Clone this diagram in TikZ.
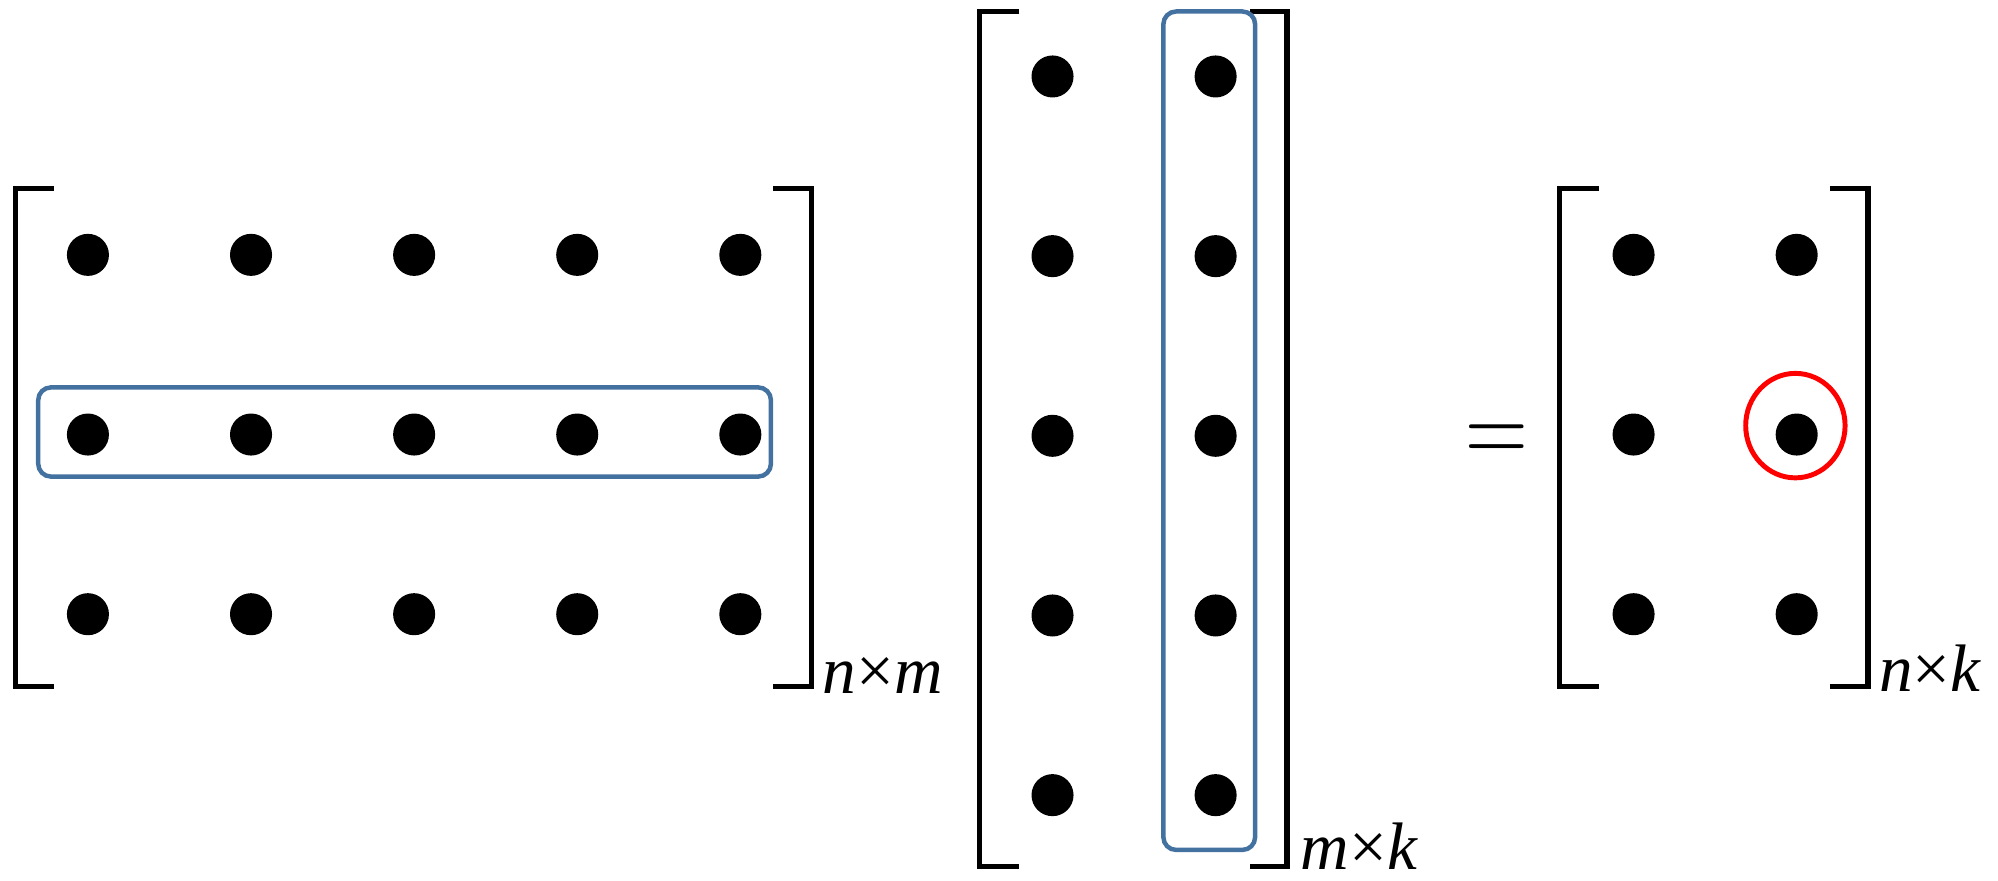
\documentclass[tikz,border=0pt]{standalone}
\usepackage{fontspec}
\setmainfont{Liberation Serif}
\usetikzlibrary{positioning}
\definecolor{boxblue}{RGB}{68,114,160}

\begin{document}
\begin{tikzpicture}[x=0.1mm,y=-0.1mm,
	brak/.style={line width=1.15pt},
	dot/.style={circle,fill=black,inner sep=0pt,minimum size=3.3mm},
	rowbox/.style={draw=boxblue,line width=1pt,rounded corners=1mm},
	dimlabel/.style={anchor=base west,inner sep=0pt,font=\fontsize{15}{18}\selectfont}]
	\useasboundingbox (0,0) rectangle (1568,691);
	
	% left matrix
	\draw [brak] (42,148) -- (12,148) -- (12,539) -- (42,539);
	\draw [brak] (607,148) -- (637,148) -- (637,539) -- (607,539);
	\foreach \r/\y in {1/200,2/341,3/482}
		\foreach \c/\x in {1/69,2/197,3/325,4/453,5/581}
			\node [dot] (A-\r-\c) at (\x,\y) {};
	\draw [rowbox] (30,304) rectangle (605,374);
	\node [dimlabel] (nm) at (645,544) {\textit{n}×\textit{m}};
	
	% middle matrix
	\draw [brak] (800,9) -- (769,9) -- (769,680) -- (800,680);
	\draw [brak] (981,9) -- (1010,9) -- (1010,680) -- (981,680);
	\foreach \r/\y in {1/60,2/201,3/342,4/483,5/624}
		\foreach \c/\x in {1/826,2/954}
			\node [dot] (B-\r-\c) at (\x,\y) {};
	\draw [rowbox] (913,9) rectangle (985,667);
	\node [dimlabel] (mk) at (1020,682) {\textit{m}×\textit{k}};
	
	\node [inner sep=0pt] (eq) at (1175,349) {\scalebox{0.78}[1]{\fontsize{26}{30}\selectfont$=$}};
	
	% right matrix
	\draw [brak] (1255,148) -- (1224,148) -- (1224,539) -- (1255,539);
	\draw [brak] (1436,148) -- (1466,148) -- (1466,539) -- (1436,539);
	\foreach \r/\y in {1/200,2/341,3/482}
		\foreach \c/\x in {1/1282,2/1410}
			\node [dot] (C-\r-\c) at (\x,\y) {};
	\draw [red,line width=1.1pt] (1409,334) ellipse [x radius=39,y radius=41];
	\node [dimlabel] (nk) at (1474,543) {\textit{n}×\textit{k}};
	
\end{tikzpicture}
\end{document}
